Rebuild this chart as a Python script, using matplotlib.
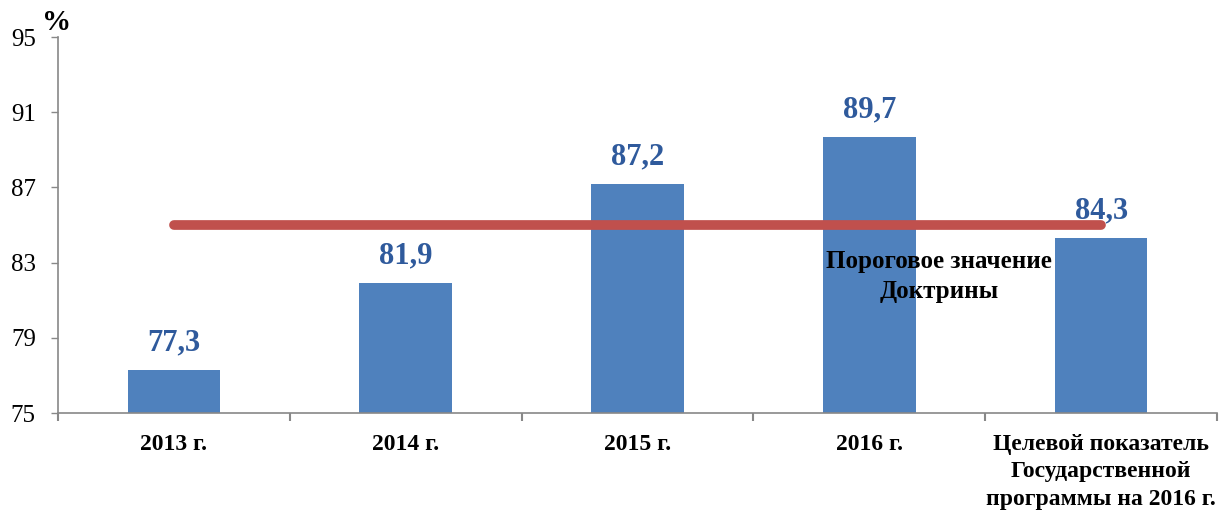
import matplotlib
matplotlib.use("Agg")
import matplotlib.pyplot as plt

categories = ["2013 г.", "2014 г.", "2015 г.", "2016 г.",
              "Целевой показатель\nГосударственной\nпрограммы на 2016 г."]
values = [77.3, 81.9, 87.2, 89.7, 84.3]
value_labels = ["77,3", "81,9", "87,2", "89,7", "84,3"]
threshold = 85.0
threshold_label = "Пороговое значение\nДоктрины"
y_ticks = [75, 79, 83, 87, 91, 95]

plt.rcParams['font.family'] = ['Liberation Serif', 'DejaVu Serif']

fig = plt.figure(figsize=(12.2, 5.12), dpi=100)
ax = fig.add_axes([58/1220, 1-413/512, (1217-58)/1220, (413-37)/512])

x = list(range(len(categories)))
ax.bar(x, [v - 75 for v in values], bottom=75, width=0.4, color="#4F81BD", zorder=2)
for xi, v, lab in zip(x, values, value_labels):
    ax.annotate(lab, (xi, v), xytext=(0, 9), textcoords="offset points",
                ha="center", va="bottom", fontsize=22, fontweight="bold",
                color="#2F5A9C", zorder=4)

ax.plot([x[0], x[-1]], [threshold, threshold], color="#C0504D", lw=7,
        solid_capstyle="round", zorder=3)
ax.text(3.3, 82.25, threshold_label, ha="center", va="center", fontsize=18,
        fontweight="bold", color="black", linespacing=1.4, zorder=5)

ax.set_xlim(-0.5, len(categories) - 0.5)
ax.set_ylim(75, 95)
ax.set_yticks(y_ticks)
ax.set_yticklabels([str(t) for t in y_ticks], fontsize=18)
ax.set_xticks(x)
ax.set_xticklabels(categories, fontsize=17, fontweight="bold", linespacing=1.4, va="top")
ax.tick_params(axis="x", length=0, pad=15)
ax.set_xticks([i - 0.5 for i in range(len(categories) + 1)], minor=True)
ax.tick_params(axis="x", which="minor", length=6, width=1.5, color="#888888")
ax.tick_params(axis="y", length=5, width=1, color="#888888", pad=11)

for s in ["top", "right"]:
    ax.spines[s].set_visible(False)
for s in ["left", "bottom"]:
    ax.spines[s].set_color("#888888")
    ax.spines[s].set_linewidth(1.2)

fig.text(57/1220, 1-22/512, "%", fontsize=21, fontweight="bold", ha="center", va="center")

fig.savefig("out.png", dpi=100)
